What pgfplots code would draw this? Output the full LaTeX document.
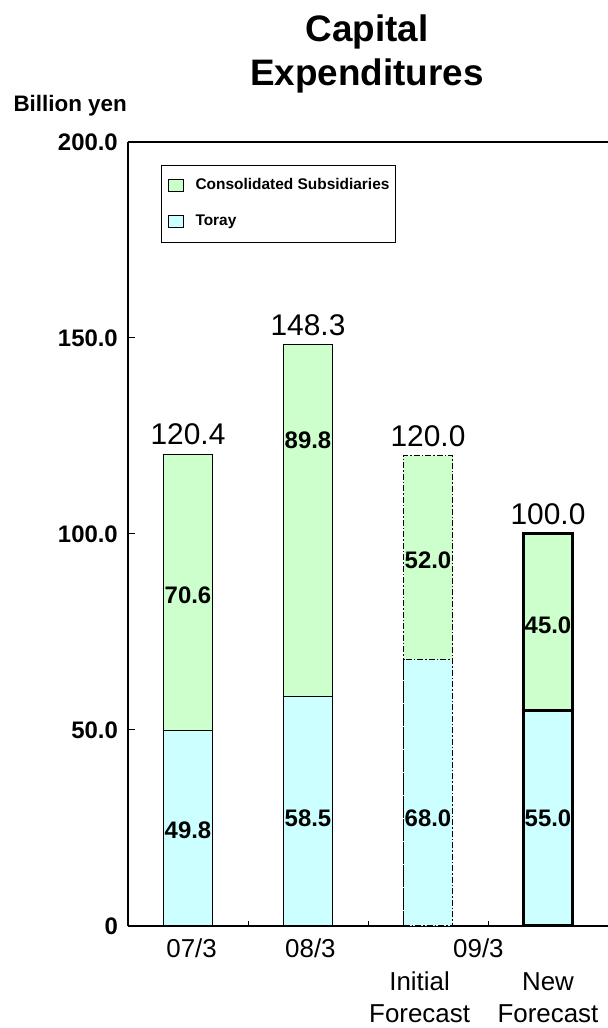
\documentclass[border=0pt]{standalone}
\usepackage{fontspec}
\setmainfont{Liberation Sans}
\usepackage{pgfplots}
\pgfplotsset{compat=1.18}
\definecolor{subsgreen}{HTML}{CCFFCC}
\definecolor{toraycyan}{HTML}{CCFFFF}
\begin{document}
\begin{tikzpicture}[x=1bp,y=1bp]
\useasboundingbox (0,0) rectangle (608,1028);
\begin{axis}[
  at={(128bp,102bp)}, anchor=south west,
  scale only axis, width=480bp, height=784bp,
  xmin=-0.5, xmax=3.5, ymin=0, ymax=200,
  ybar, bar width=49bp, bar shift=0pt,
  clip=false,
  axis y line*=left, axis x line*=bottom,
  axis line style={black, line width=1.3bp},
  extra description/.code={
    \draw[black, line width=1.3bp] (rel axis cs:0,1) -- (rel axis cs:1,1);
    \draw[gray!35, line width=1bp] (rel axis cs:1,0) -- (rel axis cs:1,1);
  },
  tick align=inside,
  ytick={0,50,100,150,200},
  yticklabels={0,50.0,100.0,150.0,200.0},
  ytick style={black, line width=1bp},
  major tick length=7bp,
  yticklabel style={font=\bfseries\fontsize{24}{28}\selectfont, anchor=east, inner sep=0pt, xshift=-10bp},
  xtick={0.5,1.5,2.5},
  xticklabels={},
  xtick style={black, line width=1bp, /pgfplots/major tick length=5bp},
  extra x ticks={0.03,1.02,1.93,2.42,3.0},
  extra x tick labels={\strut 07/3,\strut 08/3,{\strut\\Initial\\Forecast},\strut 09/3,{\strut\\New\\Forecast}},
  extra x tick style={major tick length=0pt, tick style={draw=none},
     xticklabel style={font=\fontsize{26}{33}\selectfont, align=center, anchor=north, inner sep=0pt, yshift=-8bp}},
  legend style={at={(rel axis cs:0.06875,0.9707)}, anchor=north west,
     draw=black, line width=1bp, fill=white,
     font=\bfseries\fontsize{15.5}{18}\selectfont,
     inner xsep=6bp, inner ysep=13bp, row sep=21bp,
     nodes={inner sep=0pt, text height=11bp, text depth=4bp},
     column 2/.style={nodes={text width=206bp, align=left}},
     /tikz/every odd column/.style={column sep=12bp}},
  legend cell align=left,
]
\addlegendimage{legend image code/.code={\draw[fill=subsgreen,draw=black,line width=1bp] (0bp,-6bp) rectangle (15bp,6bp);}}
\addlegendentry{Consolidated Subsidiaries}
\addlegendimage{legend image code/.code={\draw[fill=toraycyan,draw=black,line width=1bp] (0bp,-6bp) rectangle (15bp,6bp);}}
\addlegendentry{Toray}

% Consolidated subsidiaries (drawn as full stack height) and Toray on top
\addplot[forget plot, fill=subsgreen, draw=black, line width=1bp] coordinates {(0,120.4) (1,148.3)};
\addplot[forget plot, fill=toraycyan, draw=black, line width=1bp] coordinates {(0,49.8) (1,58.5)};
\addplot[forget plot, fill=subsgreen, draw=black, line width=1.8bp, dash pattern=on 6bp off 2bp on 1.5bp off 2bp] coordinates {(2,120.0)};
\addplot[forget plot, fill=toraycyan, draw=black, line width=1.8bp, dash pattern=on 6bp off 2bp on 1.5bp off 2bp] coordinates {(2,68.0)};
\addplot[forget plot, fill=subsgreen, draw=black, line width=3bp] coordinates {(3,100.0)};
\addplot[forget plot, fill=toraycyan, draw=black, line width=3bp] coordinates {(3,55.0)};

% totals
\addplot[forget plot, draw=none, fill=none, nodes near coords, point meta=explicit symbolic,
  nodes near coords style={font=\fontsize{30}{34}\selectfont, anchor=south, inner sep=0pt, yshift=9bp}]
  coordinates {(0,120.4)[120.4] (1,148.3)[148.3] (2,120.0)[120.0] (3,100.0)[100.0]};
% segment labels
\addplot[forget plot, draw=none, fill=none, nodes near coords, point meta=explicit symbolic,
  nodes near coords style={font=\bfseries\fontsize{24}{28}\selectfont, anchor=center, inner sep=0pt}]
  coordinates {(0,84.4)[70.6] (0,24.5)[49.8] (1,124.0)[89.8] (1,27.5)[58.5]
               (2,93.4)[52.0] (2,27.5)[68.0] (3,76.8)[45.0] (3,27.5)[55.0]};
\end{axis}
\node[anchor=base, font=\bfseries\fontsize{37}{42}\selectfont] at (367,986) {Capital};
\node[anchor=base, font=\bfseries\fontsize{37}{42}\selectfont] at (367,942) {Expenditures};
\node[anchor=base west, font=\bfseries\fontsize{22.5}{26}\selectfont] at (10,916) {Billion yen};
\end{tikzpicture}
\end{document}
